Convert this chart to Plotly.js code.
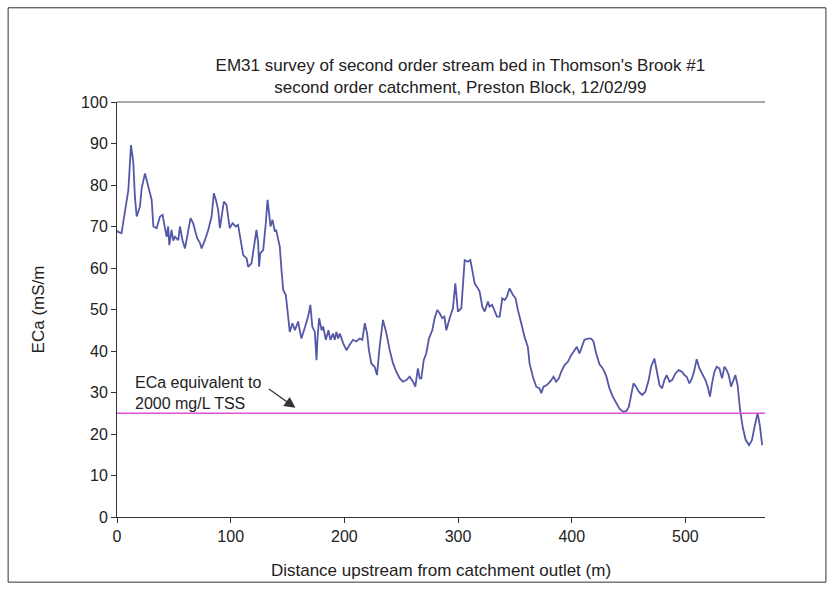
<!DOCTYPE html>
<html>
<head>
<meta charset="utf-8">
<script src="https://cdn.plot.ly/plotly-3.0.1.min.js"></script>
<style>
html,body{margin:0;padding:0;background:#fff;}
#chart{width:834px;height:590px;}
</style>
</head>
<body>
<div id="chart"></div>
<script>
// Distance upstream from catchment outlet (m)
const distance = [0,1,4,7,10,12.3,14.3,15.8,17.3,20.2,21.7,24.6,27.5,30.5,32,34.9,37.8,40.1,42.2,43.7,45,46,48,49.5,51,53.9,55.4,57.6,59.8,61.8,64.7,67,68.5,70.5,73,74.4,77.3,80.3,83.2,85.2,87,89,90.5,92,94,96.3,97.7,99.2,101.6,104.5,106.5,109,111,114,115.4,118.3,120.4,122.7,124.2,125,126,128.6,130.9,132.4,133.8,135,136.8,138.8,140,143.2,144.7,146.2,148.5,150.5,152,154.3,156.5,159.3,162.2,165.2,168.1,170.1,171.8,174,175.5,176.3,177.8,180,181.3,183.7,186,187.7,190,191.5,193,194.5,196,198.9,201.8,204.7,207.6,210.5,213.5,215.8,218,220,221.6,223.7,226.6,228.7,231,234,237,239.9,242.8,245.7,248.7,251.6,254.5,257.4,260.4,262.4,264.7,266.3,267.7,269.8,272,274.4,277.3,279.4,281.7,283.8,286.1,288,289.7,292.6,295.5,297.6,299.9,302.9,304.9,305.8,308.7,310.8,312.5,314.6,317.5,319,321.3,323.4,326.3,327.7,330,332.2,334.2,336.6,338.9,341,343,345.3,348.3,350.6,352.6,355.6,358.5,361.4,362.9,365.8,368.8,371.7,373.2,375.2,378.1,381,384,386.3,388.7,390.7,393.7,396.6,399.5,402.5,404.5,406.8,409.2,411.2,414.1,417.1,419.1,421.5,424.4,427.3,430.3,433.2,436.1,439.1,442,444.9,447.9,450.2,452.2,454.3,456.6,459,461.9,464.8,467.7,469.8,472.7,474.8,477.2,479.5,481.5,483.5,486,488.3,491.2,494.1,497,499.1,501.1,503.5,505.8,507.9,509.9,512.3,514.6,517.6,519.6,521.6,523.4,525.5,527.5,529.9,532.2,534.3,536.3,538.1,540.1,541.6,543.9,545.9,548,550.5,553,556,558.5,561,563.5,565.5,567.5];
// Apparent electrical conductivity ECa (mS/m)
const eca = [69,68.7,68.4,74,78.8,89.6,85.6,77,72.4,74.8,79.2,82.8,79.6,76.4,70,69.6,72.4,72.8,69.6,67.5,70,65.5,69.2,66.6,67.5,66.7,70,66.7,64.7,67.5,72,70.8,69.2,67.2,66,64.7,66.7,69.2,72.4,78,76.4,74,69.6,72,76,75.2,72,69.6,70.8,70,70.4,66.7,63.1,62.3,60.3,61.1,65.5,69.2,66,60.3,63.5,64.3,70.8,76.4,73.2,70,71.6,68.8,69.2,65.1,59.5,54.7,53.5,48.3,44.6,46.7,45,47.1,43,45.6,48.3,51.1,45.9,44.6,37.8,42.7,47.9,45,45.9,42.7,45,42.7,44.2,42.7,44.6,43,44.2,41.9,40.2,41.5,42.7,42.3,43,42.7,46.7,44.2,40.2,37,36.2,34.2,41,47.5,44.2,40.2,37,35,33.4,32.6,33,33.8,32.6,31.4,35.8,33.4,33.4,37.8,39.4,43,45,47.9,49.9,49.1,47.9,48.3,45,47.9,50.3,56.3,49.5,50.3,57.9,61.9,61.5,61.9,59.5,56.3,55.1,54.3,50.7,49.5,51.9,50.7,51.1,49.5,48.3,48.3,52.7,52.3,53.1,55.1,53.5,52.7,49.9,46.7,43.4,41,37,33.8,31.4,31,29.8,31.4,31.8,32.6,33.8,32.6,33.4,35,36.6,37.4,39,40.2,41,39.4,41,42.7,43,43,42.3,39.4,36.8,35.8,34,31,29,27.4,26.1,25.4,25.5,26.5,29.4,32.2,31.4,30.2,29.4,30.2,33,36.2,38.2,35.4,31.8,31,33,34.2,32.6,33,34.6,35.4,35,34.2,33.8,32.2,33.4,35.4,38,35.8,34.6,33,31.4,29,32.2,35,36.2,35.8,33.4,36.2,35.4,34.2,31.4,32.6,34.2,31.8,26,21.5,18.6,17.3,18.5,22,25,22,17.3];
// Reference level: ECa equivalent to 2000 mg/L TSS
const thresholdDistance = [0, 570];
const thresholdEca = [25, 25];

const titleText = "EM31 survey of second order stream bed in Thomson's Brook #1<br>second order catchment, Preston Block, 12/02/99";
const xTitle = "Distance upstream from catchment outlet (m)";
const yTitle = "ECa (mS/m";
const noteText = "ECa equivalent to<br>2000 mg/L TSS";

const font = "Arial, 'Liberation Sans', sans-serif";

const traces = [
  {x: distance, y: eca, type: 'scatter', mode: 'lines',
   line: {color: '#5458a6', width: 1.8}, hoverinfo: 'x+y'},
  {x: thresholdDistance, y: thresholdEca, type: 'scatter', mode: 'lines',
   line: {color: '#e050d8', width: 1.6}, hoverinfo: 'y'}
];

const layout = {
  width: 834, height: 590, autosize: false,
  margin: {l: 117, r: 69, t: 102, b: 73},
  paper_bgcolor: '#ffffff', plot_bgcolor: '#ffffff',
  showlegend: false,
  font: {family: font, color: '#222', size: 16},
  title: {text: titleText, font: {family: font, size: 17, color: '#222'},
          xref: 'container', x: 0.552, xanchor: 'center',
          yref: 'container', y: 0.879, yanchor: 'top'},
  xaxis: {range: [0, 570], tickvals: [0,100,200,300,400,500], ticks: 'outside', ticklen: 5,
          tickcolor: '#333', showline: true, linecolor: '#333', linewidth: 1,
          showgrid: false, zeroline: false, tickfont: {size: 16},
          title: {text: xTitle, font: {size: 17}, standoff: 19}},
  yaxis: {range: [0, 100], dtick: 10, ticks: 'outside', ticklen: 5,
          tickcolor: '#333', showline: true, linecolor: '#333', linewidth: 1,
          showgrid: false, zeroline: false, tickfont: {size: 16},
          title: {text: yTitle, font: {size: 17}, standoff: 32}},
  annotations: [
    {x: 14, y: 30, xref: 'x', yref: 'y', text: noteText, showarrow: false,
     xanchor: 'left', yanchor: 'middle', align: 'left', font: {size: 16, color: '#222'}},
    {x: 157, y: 26.3, xref: 'x', yref: 'y', text: '', showarrow: true,
     arrowhead: 2, arrowsize: 1.7, arrowwidth: 1.3, arrowcolor: '#333', ax: -28, ay: -20}
  ],
  shapes: [
    {type: 'line', xref: 'paper', yref: 'paper', x0: 0, x1: 1, y0: 1, y1: 1,
     line: {color: '#555', width: 1}},
    {type: 'rect', xref: 'paper', yref: 'paper', x0: -0.168, x1: 1.094, y0: -0.157, y1: 1.227,
     line: {color: '#333', width: 1}}
  ]
};

Plotly.newPlot('chart', traces, layout, {displayModeBar: false, staticPlot: true});
</script>
</body>
</html>
